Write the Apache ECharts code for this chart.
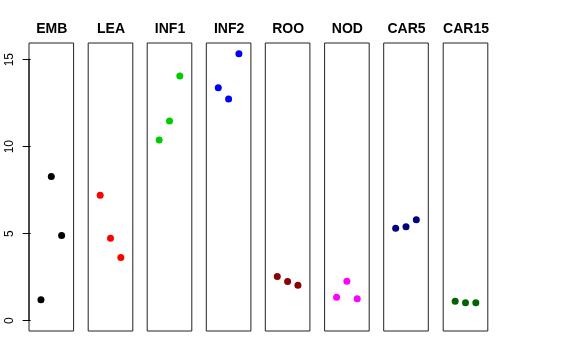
<!DOCTYPE html>
<html><head><meta charset="utf-8">
<script src="https://cdn.jsdelivr.net/npm/echarts@6/dist/echarts.min.js"></script>
<style>html,body{margin:0;padding:0;background:#fff}#c{width:576px;height:360px}</style>
</head><body><div id="c"></div>
<script>
const categories = ['EMB','LEA','INF1','INF2','ROO','NOD','CAR5','CAR15'];
const colors = ['#000000','#FF0000','#00CD00','#0000FF','#8B0000','#FF00FF','#000080','#006400'];
const xPositions = [1, 2, 3];
const EMB = [1.19, 8.28, 4.89];
const LEA = [7.21, 4.74, 3.62];
const INF1 = [10.38, 11.48, 14.06];
const INF2 = [13.39, 12.74, 15.34];
const ROO = [2.53, 2.24, 2.03];
const NOD = [1.34, 2.26, 1.25];
const CAR5 = [5.31, 5.39, 5.80];
const CAR15 = [1.11, 1.02, 1.02];
const yTicks = [0, 5, 10, 15];
const seriesValues = [EMB, LEA, INF1, INF2, ROO, NOD, CAR5, CAR15];

const lefts = [29, 88.2, 147.2, 206.3, 265.3, 324.6, 383.7, 443.2];
const W = 44.6, TOP = 43, H = 288;
const grids = [], xAxes = [], yAxes = [], series = [], titles = [];
categories.forEach((name, i) => {
  grids.push({left: lefts[i], top: TOP, width: W, height: H, show: true,
    borderColor: '#222', borderWidth: 1, backgroundColor: 'transparent'});
  xAxes.push({type: 'value', gridIndex: i, min: -0.16, max: 4.16, show: false});
  const ya = {type: 'value', gridIndex: i, min: -0.6, max: 15.96, show: i === 0,
    splitLine: {show: false},
    axisLine: {show: false},
    axisTick: {show: true, length: 8, lineStyle: {color: '#000'}, customValues: yTicks},
    axisLabel: {show: true, rotate: 90, margin: 13, color: '#000', fontSize: 12,
      fontFamily: 'Liberation Sans, Arial, sans-serif', customValues: yTicks,
      formatter: v => String(v)}
  };
  yAxes.push(ya);
  series.push({type: 'scatter', xAxisIndex: i, yAxisIndex: i, symbol: 'circle', symbolSize: 7,
    itemStyle: {color: colors[i], opacity: 1},
    data: xPositions.map((x, k) => [x, seriesValues[i][k]]), animation: false});
  titles.push({text: name, left: lefts[i] + W / 2 + 0.5, top: 22, textAlign: 'center', padding: 0,
    textStyle: {fontSize: 14, fontWeight: 'bold', color: '#000',
      fontFamily: 'Liberation Sans, Arial, sans-serif'}});
});
const chart = echarts.init(document.getElementById('c'), null, {renderer: 'canvas'});
chart.setOption({animation: false, title: titles, grid: grids, xAxis: xAxes, yAxis: yAxes, series,
  graphic: [{type: 'line', shape: {x1: 29, y1: 58.7, x2: 29, y2: 320.7}, style: {stroke: '#000', lineWidth: 1}}]});
</script></body></html>
